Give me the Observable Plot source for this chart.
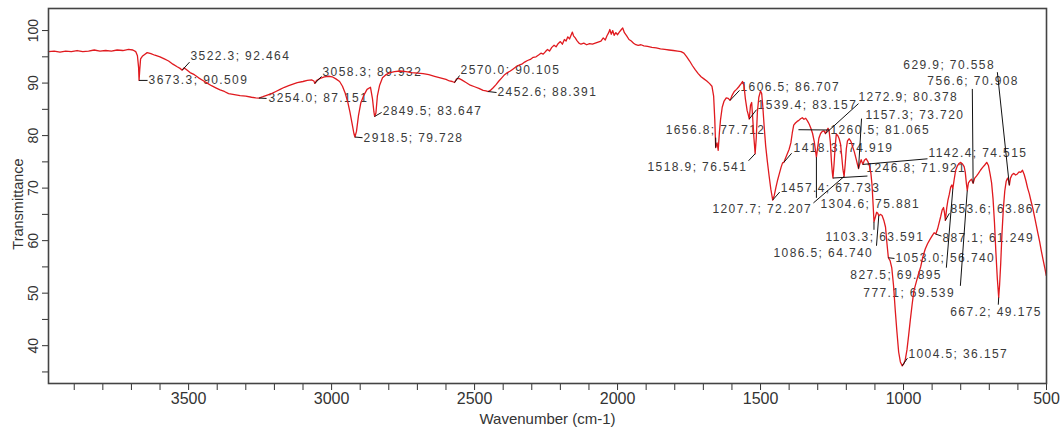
<!DOCTYPE html>
<html>
<head>
<meta charset="utf-8">
<script src="https://cdn.jsdelivr.net/npm/d3@7"></script>
<script src="https://cdn.jsdelivr.net/npm/@observablehq/plot@0.6"></script>
<style>
  body { margin: 0; background: #fff; }
  #chart svg { display: block; }
</style>
</head>
<body>
<div id="chart"></div>
<script>
// FTIR transmittance spectrum: [wavenumber (cm-1), transmittance (%)]
const spectrum = [
  [3990,96.0],[3970,96.1],[3950,95.9],[3930,96.1],[3910,96.0],[3890,96.2],[3870,96.0],[3850,96.1],
  [3830,96.3],[3810,96.1],[3790,96.2],[3770,96.1],[3750,96.3],[3730,96.2],[3710,96.4],[3695,96.3],
  [3685,96.0],[3679,95.2],[3675,93.0],[3673.3,90.509],[3671,92.5],[3668,94.6],[3662,95.1],[3655,95.4],
  [3645,95.8],[3632,95.6],[3618,95.3],[3600,95.0],[3585,94.6],[3570,94.2],[3555,93.6],[3540,93.1],
  [3530,92.8],[3522.3,92.464],[3516,92.9],[3508,92.6],[3495,92.0],[3480,91.6],[3465,91.0],[3450,90.5],
  [3435,90.0],[3420,89.5],[3405,89.1],[3390,88.7],[3375,88.4],[3360,88.0],[3340,87.8],[3320,87.6],
  [3300,87.5],[3280,87.3],[3265,87.2],[3254.0,87.151],[3240,87.4],[3225,87.7],[3210,88.0],[3195,88.4],
  [3180,88.8],[3165,89.2],[3150,89.5],[3135,89.8],[3120,90.1],[3100,90.3],[3085,90.5],[3070,90.6],
  [3062,90.4],[3058.3,89.932],[3053,90.5],[3040,90.9],[3025,91.2],[3010,91.3],[2998,91.2],[2985,90.8],
  [2972,90.3],[2962,89.4],[2952,88.0],[2944,86.5],[2936,84.5],[2928,82.2],[2922,80.4],[2918.5,79.728],
  [2913,80.8],[2906,83.8],[2898,86.2],[2888,87.6],[2876,88.8],[2864,89.2],[2857,87.0],[2852,84.5],
  [2849.5,83.647],[2845,84.3],[2840,87.5],[2832,89.6],[2822,91.0],[2810,91.6],[2795,92.0],[2780,92.2],
  [2760,92.3],[2740,92.2],[2720,92.0],[2700,91.9],[2680,91.8],[2660,91.6],[2640,91.3],[2620,91.0],
  [2600,90.7],[2588,90.4],[2578,90.3],[2570.0,90.105],[2563,90.8],[2555,90.9],[2545,90.6],[2530,90.1],
  [2515,89.6],[2500,89.3],[2485,89.0],[2470,88.6],[2460,88.5],[2452.6,88.391],[2445,88.6],[2435,89.1],
  [2425,89.7],[2415,90.4],[2405,91.0],[2395,91.6],[2385,92.0],[2375,92.3],[2365,92.7],[2355,93.1],
  [2345,93.4],[2335,93.6],[2325,94.0],[2315,94.3],[2305,94.5],[2295,94.9],[2285,95.0],[2275,95.4],
  [2268,95.7],[2260,95.5],[2252,96.0],[2245,96.4],[2238,96.1],[2230,96.8],[2222,97.2],[2215,96.9],
  [2208,97.5],[2200,97.9],[2193,97.4],[2186,98.3],[2180,98.0],[2174,98.8],[2168,98.4],[2162,99.2],
  [2158,99.7],[2154,99.0],[2148,98.6],[2142,98.1],[2135,97.6],[2128,97.4],[2118,97.6],[2108,97.3],
  [2098,97.5],[2088,97.4],[2078,97.6],[2068,97.8],[2058,98.0],[2050,98.6],[2043,98.2],[2037,99.0],
  [2031,99.6],[2027,100.2],[2022,99.3],[2017,100.0],[2012,99.1],[2006,99.6],[2000,99.2],[1994,99.7],
  [1988,100.1],[1982,100.5],[1976,99.6],[1968,99.0],[1960,98.3],[1952,98.0],[1944,97.6],[1936,97.3],
  [1928,97.2],[1918,97.3],[1908,97.1],[1895,97.0],[1880,96.8],[1865,96.7],[1850,96.5],[1835,96.4],
  [1820,96.3],[1805,96.2],[1790,96.1],[1778,96.0],[1768,95.7],[1758,95.0],[1748,94.2],[1738,93.3],
  [1728,92.5],[1718,91.8],[1708,91.2],[1698,90.8],[1688,90.4],[1678,89.9],[1670,89.4],[1664,87.5],
  [1660,83.0],[1656.8,77.712],[1652,78.6],[1648,77.2],[1644,80.5],[1640,83.0],[1634,85.4],[1628,86.5],
  [1620,87.2],[1613,87.1],[1606.5,86.707],[1600,87.6],[1592,88.4],[1584,88.8],[1576,89.3],[1568,89.9],
  [1563,90.3],[1558,89.6],[1553,87.0],[1547,84.8],[1543,84.0],[1539.4,83.157],[1535,85.8],[1531,86.3],
  [1527,83.0],[1523,79.5],[1518.9,76.541],[1515,79.5],[1511,84.5],[1506,87.3],[1500,88.5],[1496,88.0],
  [1492,85.5],[1487,81.5],[1482,78.0],[1476,75.0],[1470,72.3],[1464,69.8],[1457.4,67.733],[1452,68.6],
  [1446,70.2],[1440,71.6],[1434,72.8],[1428,74.0],[1423,74.8],[1418.3,74.919],[1412,75.8],[1406,76.6],
  [1400,77.4],[1394,78.6],[1389,80.5],[1384,82.0],[1378,82.4],[1372,82.7],[1366,82.9],[1360,83.2],
  [1354,83.4],[1348,83.1],[1342,83.3],[1336,82.8],[1330,82.2],[1324,81.4],[1318,80.4],[1312,78.8],
  [1308,77.2],[1304.6,75.881],[1300,77.8],[1296,79.5],[1290,80.4],[1284,80.8],[1278,80.9],[1272.9,80.378],
  [1268,81.0],[1264,81.4],[1260.5,81.065],[1256,78.8],[1252,75.0],[1249,73.0],[1246.8,71.921],[1243,74.5],
  [1239,78.0],[1235,80.3],[1230,80.0],[1225,79.4],[1220,78.3],[1216,76.0],[1212,73.6],[1207.7,72.207],
  [1204,74.5],[1200,77.5],[1196,79.0],[1190,79.4],[1184,78.9],[1178,77.9],[1172,76.9],[1166,75.6],
  [1161,74.5],[1157.3,73.720],[1153,74.6],[1148,75.4],[1142.4,74.515],[1137,75.3],[1131,75.6],[1125,75.1],
  [1119,74.2],[1114,72.8],[1110,70.5],[1106,66.5],[1103.3,63.591],[1099,64.4],[1094,65.4],[1090,65.2],
  [1086.5,64.740],[1081,65.0],[1075,64.8],[1069,63.9],[1063,62.6],[1058,59.5],[1053.0,56.740],[1047,56.2],
  [1041,54.8],[1035,51.5],[1029,46.8],[1023,42.6],[1017,38.8],[1011,36.9],[1004.5,36.157],[999,36.6],
  [994,37.3],[988,39.2],[982,42.0],[976,45.0],[970,47.8],[964,50.4],[956,52.0],[948,53.6],
  [940,55.0],[932,57.0],[924,58.4],[916,59.4],[908,60.2],[900,60.9],[893,61.5],[887.1,61.249],
  [881,62.2],[876,63.3],[870,64.6],[865,65.8],[860,66.3],[857,65.4],[853.6,63.867],[849,66.2],
  [845,67.6],[840,68.8],[835,70.2],[831,70.6],[827.5,69.895],[823,71.6],[818,73.3],[812,74.2],
  [806,74.7],[800,74.9],[794,74.6],[788,74.1],[784,73.0],[780,70.8],[777.1,69.539],[773,71.0],
  [768,71.4],[762,71.7],[756.6,70.908],[751,71.9],[745,72.3],[738,72.8],[731,73.4],[724,73.9],
  [716,74.4],[709,74.9],[703,74.3],[697,72.6],[692,71.0],[687,68.0],[682,63.5],[677,57.8],
  [672,52.8],[667.2,49.175],[664,51.6],[660,55.8],[656,61.0],[651,66.0],[646,69.4],[641,71.3],
  [636,71.9],[632.5,71.4],[629.9,70.558],[626,71.9],[620,72.6],[614,72.8],[608,72.5],[602,72.7],
  [596,73.1],[590,73.0],[584,73.4],[578,72.6],[572,71.4],[566,70.0],[560,68.9],[554,67.5],
  [548,66.2],[542,64.6],[536,63.0],[530,61.4],[524,59.8],[518,58.0],[512,56.4],[506,54.8],[501,53.4]
];

// picked peaks
const peakWavenumber = [3673.3, 3522.3, 3254.0, 3058.3, 2918.5, 2849.5, 2570.0, 2452.6,
  1656.8, 1606.5, 1539.4, 1518.9, 1457.4, 1418.3, 1304.6, 1272.9, 1260.5, 1246.8, 1207.7,
  1157.3, 1142.4, 1103.3, 1086.5, 1053.0, 1004.5, 887.1, 853.6, 827.5, 777.1, 756.6, 667.2, 629.9];
const peakTransmittance = [90.509, 92.464, 87.151, 89.932, 79.728, 83.647, 90.105, 88.391,
  77.712, 86.707, 83.157, 76.541, 67.733, 74.919, 75.881, 80.378, 81.065, 71.921, 72.207,
  73.720, 74.515, 63.591, 64.740, 56.740, 36.157, 61.249, 63.867, 69.895, 69.539, 70.908, 49.175, 70.558];

const xTicks = d3.range(500, 4000, 100);
const yTicks = d3.range(35, 105, 5);
const yTickLabels = [40, 50, 60, 70, 80, 90, 100];

// label placement in pixels relative to each peak: [text dx, text dy, leader end dx, leader end dy]
const labelOffsets = [
  [9.5,0,8.5,0],[8.3,-14,7.3,-8],[9.6,0.4,7.6,0.4],[7.6,-11,6.6,-7],[8.7,0.7,7.7,0.7],
  [8,-5,7,-4],[6,-12,5,-7],[9.4,1,8.4,1],
  [-50,-17,0,-10],[10.4,-13,9.4,-10],[8.3,-13.4,7.3,-9.4],[-107.6,13,-6.6,7],[8,-12,7,-8],
  [9.7,-14,7.7,-9],[4.1,46.6,0,40.6],[33,-36,33,-30],[1.4,-0.3,-30.6,-0.3],[33.5,-10,34.5,-2],
  [-131.7,32.4,-30.7,26.4],[7,-53.7,3,-50],[65.7,-11.6,64.7,-5.6],[-48.5,15,0,8],
  [-105.3,37,-2.3,30],[7.1,0.7,6.1,0.7],[6.2,-11.7,5.2,-7.7],[6.6,4,5.6,2],[5,-11,4,-7],
  [-102.5,86,-6.5,79],[-103.9,102.3,-6.9,95.3],[-45.8,-102.4,-0.8,-94.4],[-48.4,14.2,-0.4,7.2],
  [-106,-120,-12,-113]
];

const width = 1060, height = 430;
const margin = {top: 8, right: 14, bottom: 47, left: 48};
const xDomain = [3990, 500];
const yDomain = [32.8, 104.2];

// same mappings as the plot's scales, used to place labels by pixel offsets
const xs = d3.scaleLinear(xDomain, [margin.left, width - margin.right]);
const ys = d3.scaleLinear(yDomain, [height - margin.bottom, margin.top]);

const peaks = peakWavenumber.map((wn, i) => {
  const t = peakTransmittance[i];
  const [tdx, tdy, ldx, ldy] = labelOffsets[i];
  const px = xs(wn), py = ys(t);
  return {
    wn, t,
    label: `${wn.toFixed(1)}; ${t.toFixed(3)}`,
    tx: xs.invert(px + tdx), ty: ys.invert(py + tdy),
    lx: xs.invert(px + ldx), ly: ys.invert(py + ldy)
  };
});

const chart = Plot.plot({
  width, height,
  marginTop: margin.top, marginRight: margin.right,
  marginBottom: margin.bottom, marginLeft: margin.left,
  x: {domain: xDomain},
  y: {domain: yDomain},
  style: {fontFamily: "'Liberation Sans', Arial, sans-serif", background: "#fff"},
  marks: [
    Plot.axisX({ticks: xTicks, tickSize: 7, tickPadding: 2, fontSize: 16, color: "#333",
      tickFormat: d => d % 500 === 0 ? String(d) : "", label: null}),
    Plot.axisY({ticks: yTicks, tickSize: 6, tickFormat: () => "", color: "#333", label: null}),
    Plot.text(yTickLabels, {y: d => d, text: d => String(d), frameAnchor: "left",
      textAnchor: "middle", lineAnchor: "middle", rotate: -90, dx: -15, fontSize: 14, fill: "#333"}),
    Plot.text(["Transmittance"], {frameAnchor: "left", textAnchor: "middle", lineAnchor: "middle",
      rotate: -90, dx: -30, dy: 8, fontSize: 14.5, fill: "#333"}),
    Plot.text(["Wavenumber (cm-1)"], {frameAnchor: "bottom", textAnchor: "middle", lineAnchor: "middle",
      dy: 36, fontSize: 15, fill: "#333"}),
    Plot.text(peaks, {x: "tx", y: "ty", text: "label", textAnchor: "start", lineAnchor: "middle",
      fontSize: 12, fill: "#3a3a3a"}),
    Plot.line(spectrum, {x: d => d[0], y: d => d[1], stroke: "#e01a1f", strokeWidth: 1.3}),
    Plot.link(peaks, {x1: "wn", y1: "t", x2: "lx", y2: "ly", stroke: "#111", strokeWidth: 1}),
    Plot.frame({stroke: "#444", strokeWidth: 1.6})
  ]
});

// widen the peak labels
chart.querySelectorAll('g[font-size="12"]').forEach(g => g.style.letterSpacing = "1.4px");

document.getElementById("chart").appendChild(chart);
</script>
</body>
</html>
